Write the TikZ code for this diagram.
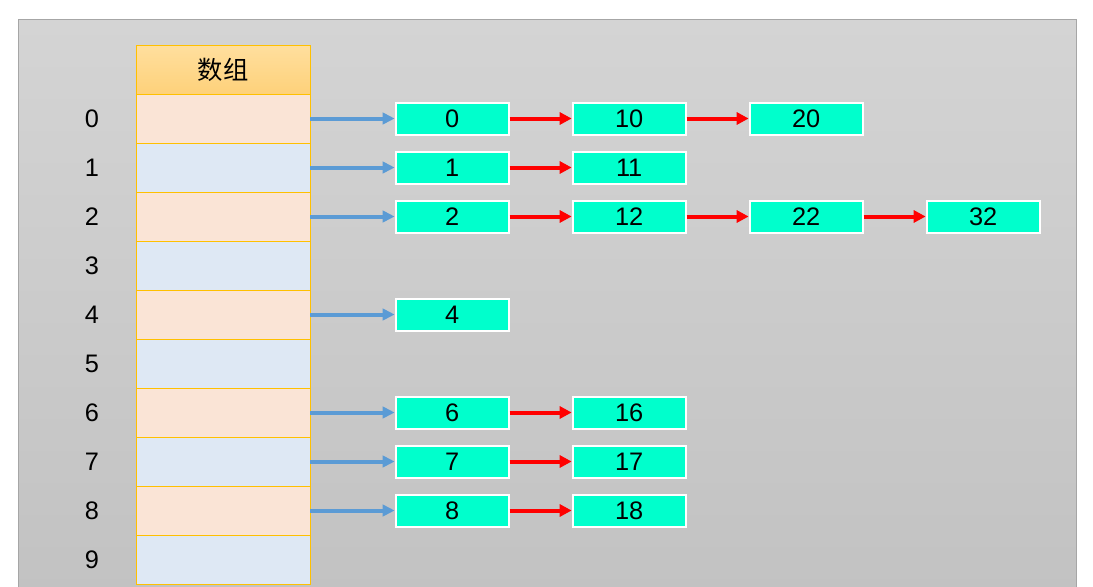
\documentclass[tikz,border=0pt]{standalone}
\usepackage{fontspec}
\setmainfont{Liberation Sans}
\newfontfamily\cjkfont{Noto Sans CJK SC}
\usepackage{xcolor}
\usepackage{tikz}
\usetikzlibrary{arrows.meta,positioning}
\definecolor{panelTop}{HTML}{D4D4D4}
\definecolor{panelBot}{HTML}{C2C2C2}
\definecolor{panelLine}{HTML}{A6A6A6}
\definecolor{gold}{HTML}{FFC000}
\definecolor{cellOrange}{HTML}{FAE4D6}
\definecolor{cellBlue}{HTML}{DEE8F4}
\definecolor{hdTop}{HTML}{FFDF9E}
\definecolor{hdBot}{HTML}{FED17A}
\definecolor{entryFill}{HTML}{00FFCC}
\definecolor{ptrBlue}{HTML}{5B9BD5}
\tikzset{
  cell/.style={draw=gold, line width=0.75pt, outer sep=0pt, inner sep=0pt,
    minimum width=130.5pt, minimum height=36.75pt},
  evencell/.style={cell, fill=cellOrange},
  oddcell/.style={cell, fill=cellBlue},
  hdcell/.style={cell, top color=hdTop, bottom color=hdBot,
    font=\cjkfont\fontsize{19}{22}\selectfont},
  idx/.style={font=\fontsize{19}{22}\selectfont},
  entry/.style={draw=white, line width=1.5pt, fill=entryFill, inner sep=0pt,
    minimum width=84.75pt, minimum height=24pt, font=\fontsize{19}{22}\selectfont},
  ptr/.style={-{Triangle[length=9pt, width=8.5pt]}, line width=3pt, ptrBlue},
  nxt/.style={-{Triangle[length=9pt, width=9pt]}, line width=3pt, red}
}

\begin{document}
\begin{tikzpicture}[node distance=0pt and 46.5pt]
  % page and grey panel
  \useasboundingbox (0,0) rectangle (819.75pt,-439.5pt);
  \fill[white] (0,0) rectangle (819.75pt,-439.5pt);
  \draw[panelLine, line width=0.75pt, top color=panelTop, bottom color=panelBot]
    (13.5pt,-14.25pt) rectangle (807pt,-446pt);

  % array column
  \node[hdcell, anchor=north west] (hd) at (102pt,-33.75pt) {数组};
  \node[evencell, below=of hd] (c0) {};
  \node[oddcell, below=of c0] (c1) {};
  \node[evencell, below=of c1] (c2) {};
  \node[oddcell, below=of c2] (c3) {};
  \node[evencell, below=of c3] (c4) {};
  \node[oddcell, below=of c4] (c5) {};
  \node[evencell, below=of c5] (c6) {};
  \node[oddcell, below=of c6] (c7) {};
  \node[evencell, below=of c7] (c8) {};
  \node[oddcell, below=of c8] (c9) {};

  % index labels
  \coordinate (ix) at (69pt,0);
  \node[idx] (i0) at (c0 -| ix) {0};
  \node[idx] (i1) at (c1 -| ix) {1};
  \node[idx] (i2) at (c2 -| ix) {2};
  \node[idx] (i3) at (c3 -| ix) {3};
  \node[idx] (i4) at (c4 -| ix) {4};
  \node[idx] (i5) at (c5 -| ix) {5};
  \node[idx] (i6) at (c6 -| ix) {6};
  \node[idx] (i7) at (c7 -| ix) {7};
  \node[idx] (i8) at (c8 -| ix) {8};
  \node[idx] (i9) at (c9 -| ix) {9};

  % chained entries
  \node[entry, right=63.5pt of c0] (e0) {0};
  \node[entry, right=of e0] (e10) {10};
  \node[entry, right=of e10] (e20) {20};
  \node[entry, right=63.5pt of c1] (e1) {1};
  \node[entry, right=of e1] (e11) {11};
  \node[entry, right=63.5pt of c2] (e2) {2};
  \node[entry, right=of e2] (e12) {12};
  \node[entry, right=of e12] (e22) {22};
  \node[entry, right=of e22] (e32) {32};
  \node[entry, right=63.5pt of c4] (e4) {4};
  \node[entry, right=63.5pt of c6] (e6) {6};
  \node[entry, right=of e6] (e16) {16};
  \node[entry, right=63.5pt of c7] (e7) {7};
  \node[entry, right=of e7] (e17) {17};
  \node[entry, right=63.5pt of c8] (e8) {8};
  \node[entry, right=of e8] (e18) {18};

  \draw[ptr] (c0) -- (e0);
  \draw[ptr] (c1) -- (e1);
  \draw[ptr] (c2) -- (e2);
  \draw[ptr] (c4) -- (e4);
  \draw[ptr] (c6) -- (e6);
  \draw[ptr] (c7) -- (e7);
  \draw[ptr] (c8) -- (e8);

  \draw[nxt] (e0) -- (e10);
  \draw[nxt] (e10) -- (e20);
  \draw[nxt] (e1) -- (e11);
  \draw[nxt] (e2) -- (e12);
  \draw[nxt] (e12) -- (e22);
  \draw[nxt] (e22) -- (e32);
  \draw[nxt] (e6) -- (e16);
  \draw[nxt] (e7) -- (e17);
  \draw[nxt] (e8) -- (e18);
\end{tikzpicture}
\end{document}
